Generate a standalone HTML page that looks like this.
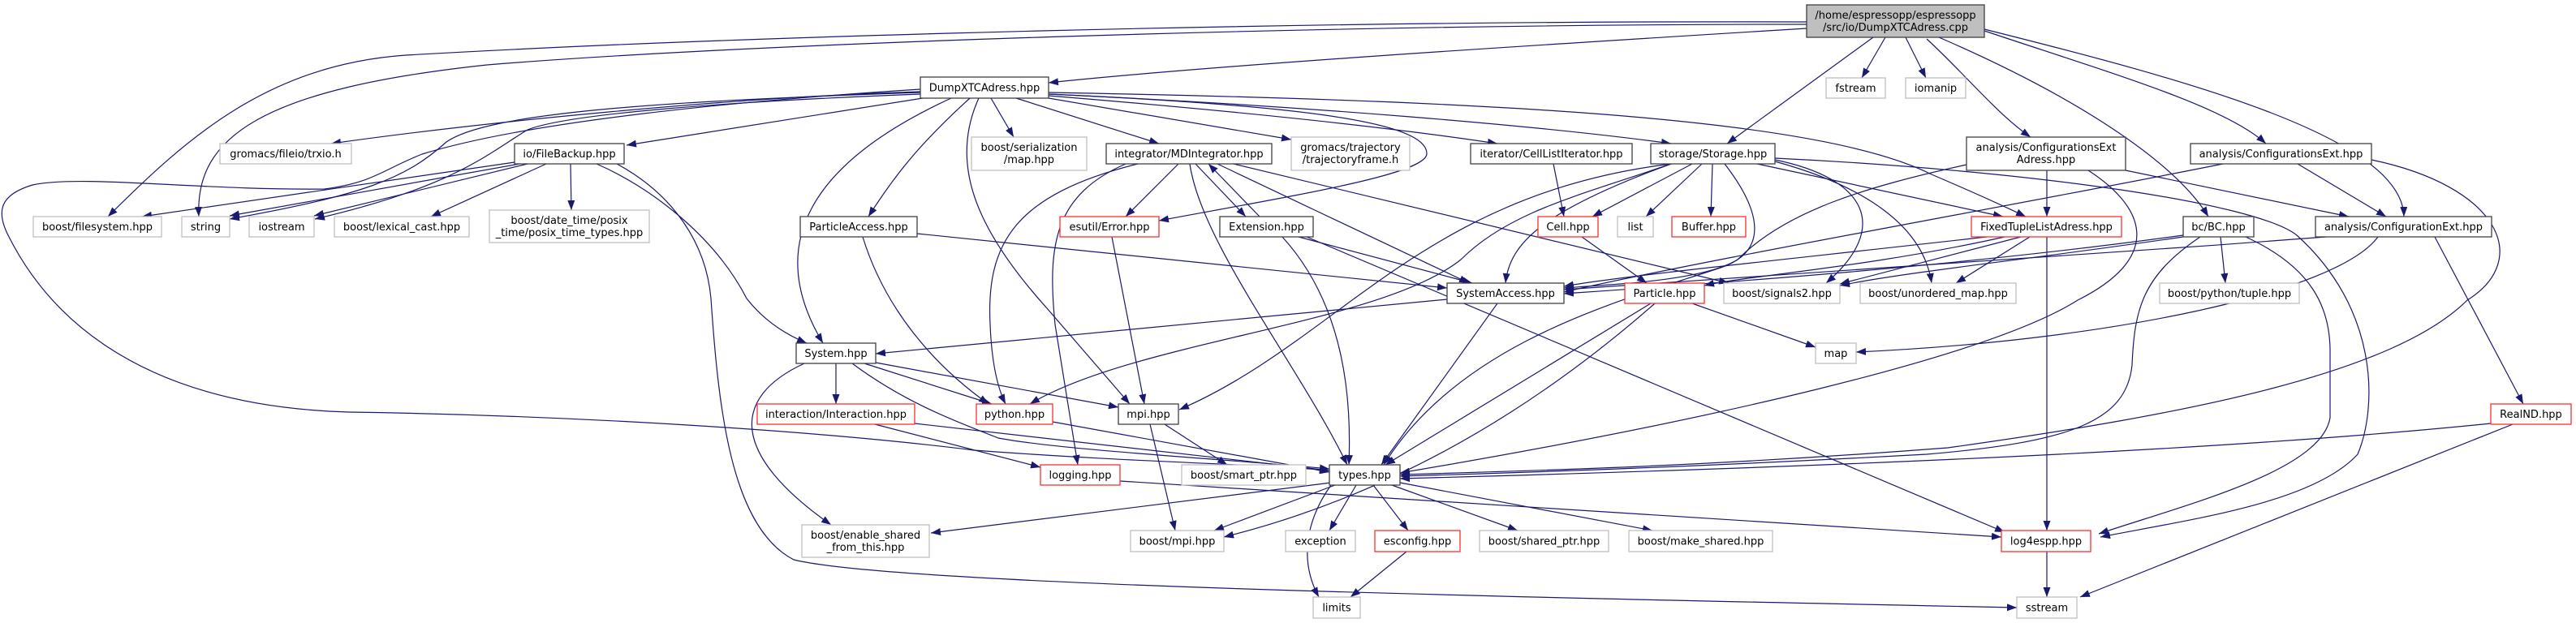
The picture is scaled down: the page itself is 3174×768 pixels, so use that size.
<!DOCTYPE html>
<html><head><meta charset="utf-8"><style>
html,body{margin:0;padding:0;background:#fff;}
svg{display:block;}
text{font-family:"DejaVu Sans","Liberation Sans",sans-serif;font-size:13px;fill:#000;}
.e{fill:none;stroke:#191970;stroke-width:1.2;marker-end:url(#a);}
.b{fill:#fff;stroke:#404040;stroke-width:1.3;}
.r{fill:#fff;stroke:#ff3030;stroke-width:1.3;}
.g{fill:#fff;stroke:#bfbfbf;stroke-width:1.3;}
</style></head><body>
<svg width="3174" height="768" viewBox="0 0 3174 768" xmlns="http://www.w3.org/2000/svg">
<defs><marker id="a" markerUnits="userSpaceOnUse" markerWidth="12" markerHeight="9" refX="12" refY="4.5" orient="auto"><path d="M0,0 L12,4.5 L0,9 z" fill="#191970"/></marker></defs>
<g>
<path class="e" d="M2226,35 C1900,55 1500,80 1292,102"/>
<path class="e" d="M2323,46 L2294,96"/>
<path class="e" d="M2348,46 L2373,96"/>
<path class="e" d="M2308,46 L2128,177"/>
<path class="e" d="M2374,48 C2420,90 2460,140 2502,169"/>
<path class="e" d="M2389,46 C2560,120 2680,200 2721,267"/>
<path class="e" d="M2445,38 C2600,90 2740,130 2792,177"/>
<path class="e" d="M2445,36 C2700,100 2960,170 2962,267"/>
<path class="e" d="M2226,27 C1600,25 900,45 500,68 C330,80 230,170 133,267"/>
<path class="e" d="M2226,30 C1600,30 900,55 600,80 C320,110 240,170 245,267"/>
<path class="e" d="M1134,113 C900,120 600,150 408,177"/>
<path class="e" d="M1137,121 L772,179"/>
<path class="e" d="M1134,110 C900,125 650,150 520,190 C470,210 460,225 400,233 C250,235 100,215 40,228 C0,240 -5,260 10,290 C50,370 150,500 430,508 C700,512 1000,530 1200,555 C1400,570 1550,572 1638,580"/>
<path class="e" d="M1134,116 C900,125 700,140 650,160 C600,190 560,230 388,270"/>
<path class="e" d="M1134,114 C800,125 600,140 550,175 C500,220 450,240 283,270"/>
<path class="e" d="M1221,121 L1249,169"/>
<path class="e" d="M1252,121 L1428,177"/>
<path class="e" d="M1292,121 L1591,172"/>
<path class="e" d="M1292,118 C1500,135 1700,155 1845,177"/>
<path class="e" d="M1292,116 C1600,130 1900,155 2059,177"/>
<path class="e" d="M1292,114 C1900,125 2250,150 2380,215 Q2450,245 2496,267"/>
<path class="e" d="M1292,116 C1600,130 1760,150 1758,190 C1755,215 1600,240 1428,272"/>
<path class="e" d="M1195,121 C1130,180 1100,220 1070,267"/>
<path class="e" d="M1172,121 C1000,200 940,300 1014,423"/>
<path class="e" d="M1206,121 C1170,200 1200,280 1290,380 L1392,498"/>
<path class="e" d="M634,200 L175,267"/>
<path class="e" d="M640,202 L283,266"/>
<path class="e" d="M650,202 L387,266"/>
<path class="e" d="M673,202 L531,267"/>
<path class="e" d="M703,202 L704,259"/>
<path class="e" d="M735,202 C800,230 880,290 920,368 C945,400 975,415 994,423"/>
<path class="e" d="M760,202 C830,240 870,300 876,368 C885,500 900,650 978,690 C1100,720 1800,735 2485,749"/>
<path class="e" d="M1452,202 L1387,267"/>
<path class="e" d="M1473,202 L1535,267"/>
<path class="e" d="M1552,267 L1489,202"/>
<path class="e" d="M1402,202 C1250,240 1215,300 1220,400 C1222,450 1230,480 1239,498"/>
<path class="e" d="M1387,202 C1300,240 1290,300 1300,400 L1328,573"/>
<path class="e" d="M1466,202 C1480,300 1600,450 1660,573"/>
<path class="e" d="M1500,202 C1600,250 1750,320 1810,349"/>
<path class="e" d="M1520,202 L2130,349"/>
<path class="e" d="M1600,292 L1814,349"/>
<path class="e" d="M1580,292 C1660,380 1665,500 1662,573"/>
<path class="e" d="M1610,292 L2470,656"/>
<path class="e" d="M1130,288 L1783,355"/>
<path class="e" d="M1063,292 C1090,380 1150,450 1218,498"/>
<path class="e" d="M1370,292 L1410,498"/>
<path class="e" d="M2085,202 L1962,267"/>
<path class="e" d="M2097,202 L2028,267"/>
<path class="e" d="M2110,202 L2108,267"/>
<path class="e" d="M2059,202 C1900,260 1860,300 1855,349"/>
<path class="e" d="M2059,202 C1950,240 1860,260 1800,320 C1700,400 1400,420 1269,498"/>
<path class="e" d="M2059,202 C1750,240 1650,420 1453,505"/>
<path class="e" d="M2125,202 C2170,260 2180,310 2120,330 C2000,370 1800,420 1705,573"/>
<path class="e" d="M2187,197 C2300,220 2330,280 2250,349"/>
<path class="e" d="M2187,199 C2300,230 2370,280 2380,349"/>
<path class="e" d="M2165,202 L2468,267"/>
<path class="e" d="M2187,195 C2500,210 2780,250 2830,290 C2930,380 2930,500 2905,560 C2850,620 2700,640 2588,662"/>
<path class="e" d="M1914,202 L1927,267"/>
<path class="e" d="M1949,292 L2029,349"/>
<path class="e" d="M2522,210 L2522,267"/>
<path class="e" d="M2423,203 C2300,230 2200,260 2141,320 C2100,345 2000,350 1927,355"/>
<path class="e" d="M2619,210 L2894,267"/>
<path class="e" d="M2573,210 C2650,260 2660,320 2560,370 C2450,440 2100,520 1725,583"/>
<path class="e" d="M2739,202 C2500,250 2100,320 1927,360"/>
<path class="e" d="M2831,202 L2940,267"/>
<path class="e" d="M2922,197 C3080,230 3120,320 3040,370 C2950,460 2700,510 2400,552 C2100,575 1900,580 1725,585"/>
<path class="e" d="M2866,292 C2500,320 2100,345 1927,357"/>
<path class="e" d="M2930,292 C2880,360 2600,420 2287,434"/>
<path class="e" d="M3000,292 L3109,498"/>
<path class="e" d="M2690,290 C2400,330 2100,350 1927,362"/>
<path class="e" d="M2690,292 C2500,320 2350,335 2267,352"/>
<path class="e" d="M2736,292 L2742,349"/>
<path class="e" d="M2711,292 C2640,340 2630,380 2627,450 C2620,520 2550,545 2374,560 C2100,575 1900,582 1725,587"/>
<path class="e" d="M2767,292 C2850,330 2870,380 2871,430 L2871,515 C2860,580 2700,620 2586,658"/>
<path class="e" d="M2522,292 L2522,654"/>
<path class="e" d="M2501,292 L2410,349"/>
<path class="e" d="M2448,292 C2200,320 2000,340 1927,353"/>
<path class="e" d="M2470,292 C2300,330 2150,340 2100,352"/>
<path class="e" d="M2490,292 L2267,350"/>
<path class="e" d="M2085,374 L2237,428"/>
<path class="e" d="M2034,374 L1707,573"/>
<path class="e" d="M2039,374 C1932,468 1753,601 1508,662"/>
<path class="e" d="M1783,369 L1079,436"/>
<path class="e" d="M1845,374 L1702,573"/>
<path class="e" d="M1030,448 L1030,498"/>
<path class="e" d="M1065,448 L1222,498"/>
<path class="e" d="M1079,447 L1378,502"/>
<path class="e" d="M1050,448 C1120,500 1188,523 1230,540 C1310,555 1500,565 1638,578"/>
<path class="e" d="M991,448 C900,490 900,560 1024,647"/>
<path class="e" d="M1078,523 L1282,576"/>
<path class="e" d="M1127,522 L1638,580"/>
<path class="e" d="M1297,520 L1638,582"/>
<path class="e" d="M1435,523 L1512,573"/>
<path class="e" d="M1417,523 L1448,654"/>
<path class="e" d="M1380,593 L2466,662"/>
<path class="e" d="M1640,595 L1147,657"/>
<path class="e" d="M1645,598 L1496,654"/>
<path class="e" d="M1671,598 L1638,654"/>
<path class="e" d="M1692,598 L1735,654"/>
<path class="e" d="M1715,598 L1870,654"/>
<path class="e" d="M1725,595 L2036,654"/>
<path class="e" d="M1640,598 C1610,640 1600,690 1625,736"/>
<path class="e" d="M1733,680 L1664,736"/>
<path class="e" d="M2522,680 L2522,736"/>
<path class="e" d="M3096,523 L2563,736"/>
<path class="e" d="M3069,522 C2700,560 2100,580 1725,590"/>
</g>
<g>
<rect x="2226" y="6" width="219" height="40" fill="#bfbfbf" stroke="#404040" stroke-width="1.3"/>
<text x="2335.5" y="23" text-anchor="middle">/home/espressopp/espressopp</text>
<text x="2335.5" y="38" text-anchor="middle">/src/io/DumpXTCAdress.cpp</text>

<rect class="b" x="1134" y="95" width="158" height="26"/><text x="1213" y="112.5" text-anchor="middle">DumpXTCAdress.hpp</text>
<rect class="g" x="2250" y="96" width="73" height="25"/><text x="2286.5" y="113" text-anchor="middle">fstream</text>
<rect class="g" x="2348" y="96" width="74" height="25"/><text x="2385" y="113" text-anchor="middle">iomanip</text>

<rect class="g" x="271" y="177" width="162" height="25"/><text x="352" y="194" text-anchor="middle">gromacs/fileio/trxio.h</text>
<rect class="b" x="634" y="177" width="135" height="25"/><text x="701.5" y="194" text-anchor="middle">io/FileBackup.hpp</text>
<rect class="g" x="1197" y="169" width="142" height="41"/><text x="1268" y="186" text-anchor="middle">boost/serialization</text><text x="1268" y="201" text-anchor="middle">/map.hpp</text>
<rect class="b" x="1363" y="177" width="204" height="25"/><text x="1465" y="194" text-anchor="middle">integrator/MDIntegrator.hpp</text>
<rect class="g" x="1591" y="169" width="146" height="41"/><text x="1664" y="186" text-anchor="middle">gromacs/trajectory</text><text x="1664" y="201" text-anchor="middle">/trajectoryframe.h</text>
<rect class="b" x="1812" y="177" width="199" height="25"/><text x="1911.5" y="194" text-anchor="middle">iterator/CellListIterator.hpp</text>
<rect class="b" x="2034" y="177" width="153" height="25"/><text x="2110.5" y="194" text-anchor="middle">storage/Storage.hpp</text>
<rect class="b" x="2423" y="169" width="196" height="41"/><text x="2521" y="186" text-anchor="middle">analysis/ConfigurationsExt</text><text x="2521" y="201" text-anchor="middle">Adress.hpp</text>
<rect class="b" x="2699" y="177" width="223" height="25"/><text x="2810.5" y="194" text-anchor="middle">analysis/ConfigurationsExt.hpp</text>

<rect class="g" x="41" y="267" width="158" height="25"/><text x="120" y="284" text-anchor="middle">boost/filesystem.hpp</text>
<rect class="g" x="224" y="267" width="59" height="25"/><text x="253.5" y="284" text-anchor="middle">string</text>
<rect class="g" x="307" y="267" width="80" height="25"/><text x="347" y="284" text-anchor="middle">iostream</text>
<rect class="g" x="412" y="267" width="166" height="25"/><text x="495" y="284" text-anchor="middle">boost/lexical_cast.hpp</text>
<rect class="g" x="603" y="259" width="197" height="40"/><text x="701.5" y="276" text-anchor="middle">boost/date_time/posix</text><text x="701.5" y="291" text-anchor="middle">_time/posix_time_types.hpp</text>
<rect class="b" x="986" y="267" width="144" height="25"/><text x="1058" y="284" text-anchor="middle">ParticleAccess.hpp</text>
<rect class="r" x="1306" y="267" width="122" height="25"/><text x="1367" y="284" text-anchor="middle">esutil/Error.hpp</text>
<rect class="b" x="1503" y="267" width="115" height="25"/><text x="1560.5" y="284" text-anchor="middle">Extension.hpp</text>
<rect class="r" x="1895" y="267" width="74" height="25"/><text x="1932" y="284" text-anchor="middle">Cell.hpp</text>
<rect class="g" x="1993" y="267" width="44" height="25"/><text x="2015" y="284" text-anchor="middle">list</text>
<rect class="r" x="2060" y="267" width="91" height="25"/><text x="2105.5" y="284" text-anchor="middle">Buffer.hpp</text>
<rect class="r" x="2429" y="267" width="185" height="25"/><text x="2521.5" y="284" text-anchor="middle">FixedTupleListAdress.hpp</text>
<rect class="b" x="2690" y="267" width="87" height="25"/><text x="2733.5" y="284" text-anchor="middle">bc/BC.hpp</text>
<rect class="b" x="2853" y="267" width="217" height="25"/><text x="2961.5" y="284" text-anchor="middle">analysis/ConfigurationExt.hpp</text>

<rect class="b" x="1783" y="349" width="144" height="25"/><text x="1855" y="366" text-anchor="middle">SystemAccess.hpp</text>
<rect class="r" x="2002" y="349" width="98" height="25"/><text x="2051" y="366" text-anchor="middle">Particle.hpp</text>
<rect class="g" x="2124" y="349" width="143" height="25"/><text x="2195.5" y="366" text-anchor="middle">boost/signals2.hpp</text>
<rect class="g" x="2292" y="349" width="192" height="25"/><text x="2388" y="366" text-anchor="middle">boost/unordered_map.hpp</text>
<rect class="g" x="2661" y="349" width="172" height="25"/><text x="2747" y="366" text-anchor="middle">boost/python/tuple.hpp</text>

<rect class="b" x="981" y="423" width="98" height="25"/><text x="1030" y="440" text-anchor="middle">System.hpp</text>
<rect class="g" x="2237" y="423" width="50" height="25"/><text x="2262" y="440" text-anchor="middle">map</text>

<rect class="r" x="933" y="498" width="194" height="25"/><text x="1030" y="515" text-anchor="middle">interaction/Interaction.hpp</text>
<rect class="r" x="1203" y="498" width="94" height="25"/><text x="1250" y="515" text-anchor="middle">python.hpp</text>
<rect class="b" x="1378" y="498" width="74" height="25"/><text x="1415" y="515" text-anchor="middle">mpi.hpp</text>
<rect class="r" x="3069" y="498" width="99" height="25"/><text x="3118.5" y="515" text-anchor="middle">RealND.hpp</text>

<rect class="r" x="1282" y="573" width="98" height="25"/><text x="1331" y="590" text-anchor="middle">logging.hpp</text>
<rect class="g" x="1456" y="573" width="153" height="25"/><text x="1532.5" y="590" text-anchor="middle">boost/smart_ptr.hpp</text>
<rect class="b" x="1638" y="573" width="87" height="25"/><text x="1681.5" y="590" text-anchor="middle">types.hpp</text>

<rect class="g" x="988" y="647" width="157" height="40"/><text x="1066.5" y="664" text-anchor="middle">boost/enable_shared</text><text x="1066.5" y="679" text-anchor="middle">_from_this.hpp</text>
<rect class="g" x="1393" y="654" width="115" height="26"/><text x="1450.5" y="671.5" text-anchor="middle">boost/mpi.hpp</text>
<rect class="g" x="1584" y="654" width="86" height="26"/><text x="1627" y="671.5" text-anchor="middle">exception</text>
<rect class="r" x="1694" y="654" width="105" height="26"/><text x="1746.5" y="671.5" text-anchor="middle">esconfig.hpp</text>
<rect class="g" x="1823" y="654" width="159" height="26"/><text x="1902.5" y="671.5" text-anchor="middle">boost/shared_ptr.hpp</text>
<rect class="g" x="2007" y="654" width="177" height="26"/><text x="2095.5" y="671.5" text-anchor="middle">boost/make_shared.hpp</text>
<rect class="r" x="2466" y="654" width="110" height="26"/><text x="2521" y="671.5" text-anchor="middle">log4espp.hpp</text>

<rect class="g" x="1618" y="736" width="58" height="26"/><text x="1647" y="753.5" text-anchor="middle">limits</text>
<rect class="g" x="2485" y="736" width="74" height="26"/><text x="2522" y="753.5" text-anchor="middle">sstream</text>
</g>
</svg>
</body></html>
